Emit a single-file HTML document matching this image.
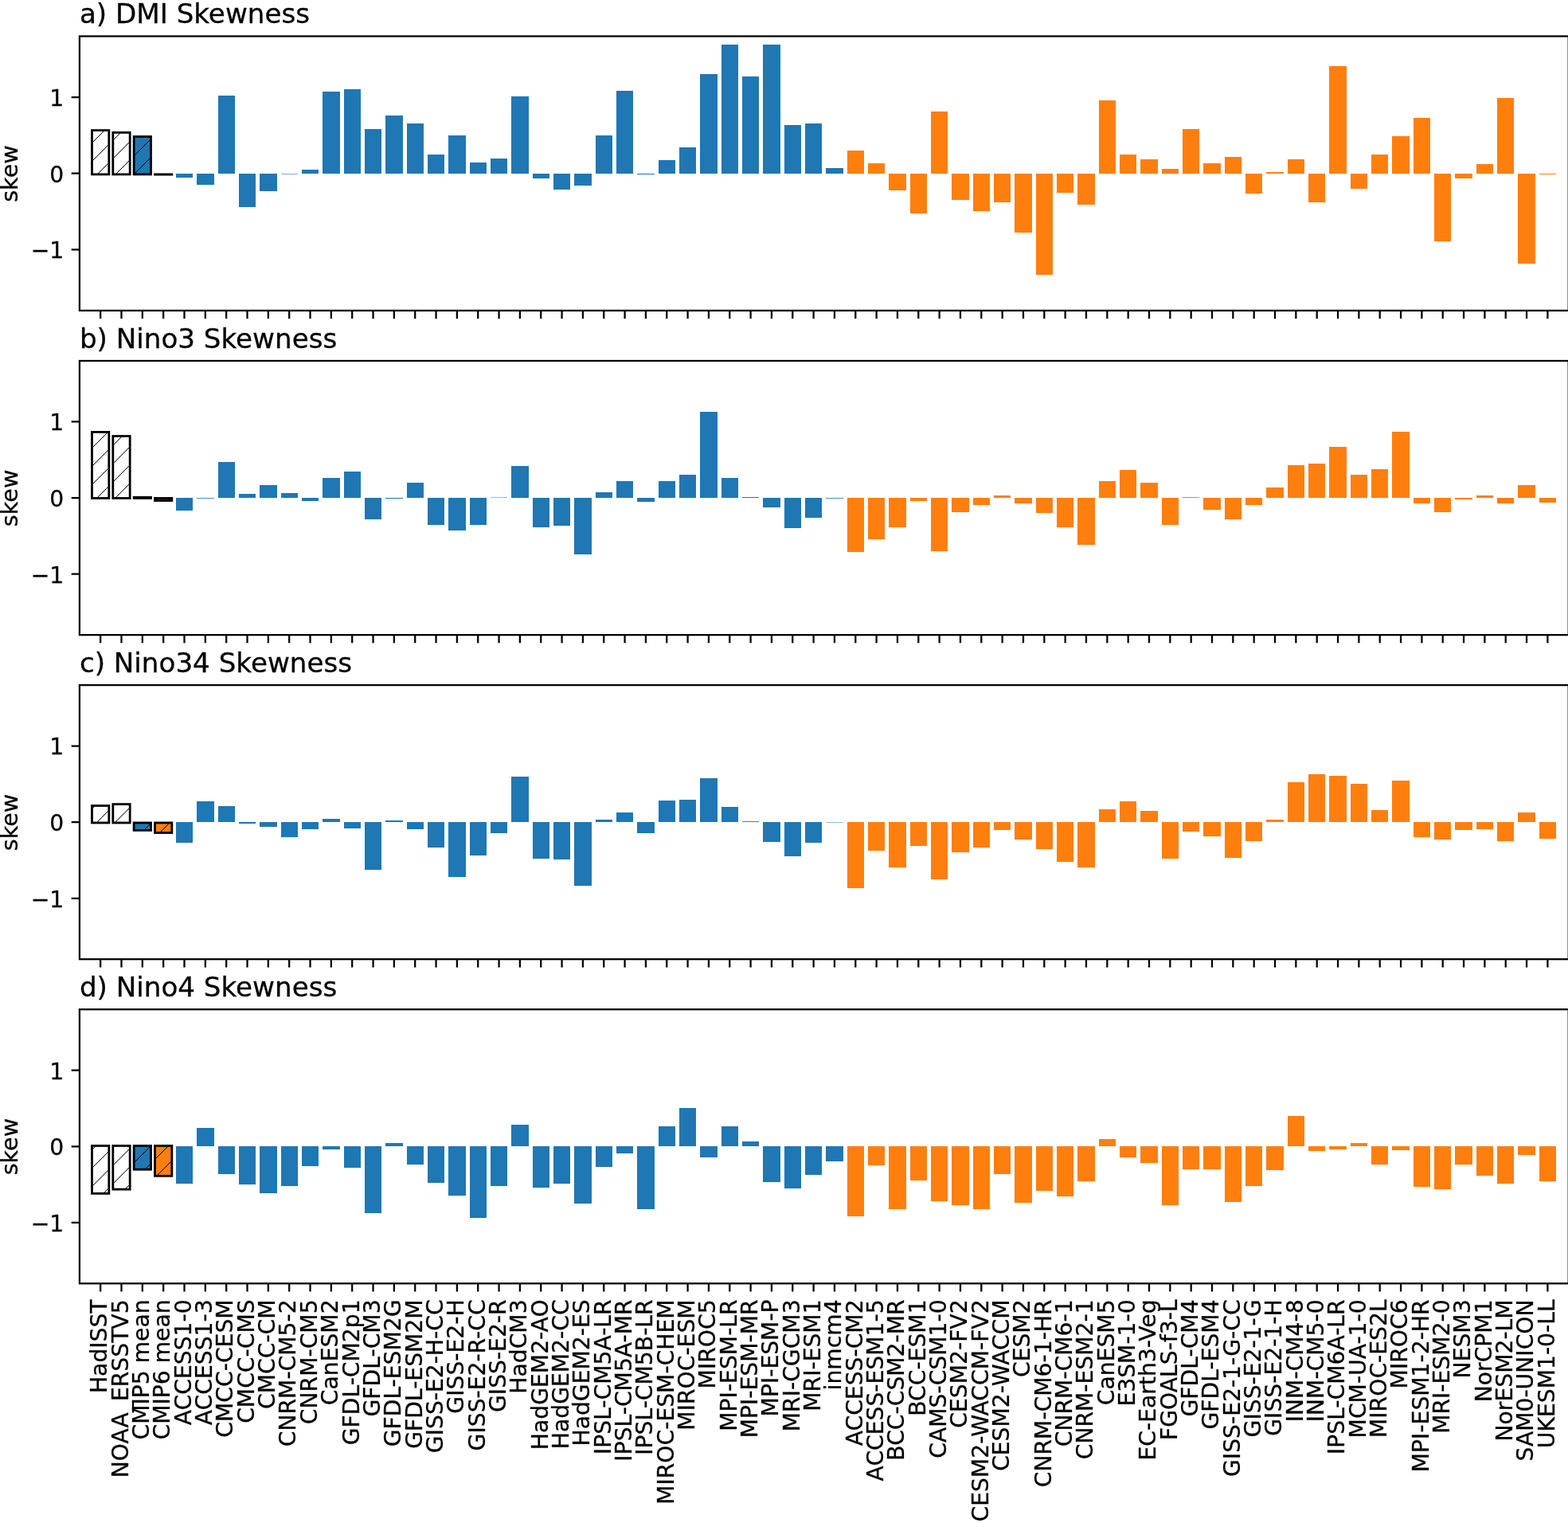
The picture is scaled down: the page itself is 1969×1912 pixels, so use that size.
<!DOCTYPE html>
<html><head><meta charset="utf-8"><title>Skewness</title>
<style>
html,body{margin:0;padding:0;background:#fff;}
body{width:1969px;height:1912px;overflow:hidden;}
svg{display:block;}
.t{font-family:"DejaVu Sans",sans-serif;font-size:28.2px;fill:#000;stroke:#000;stroke-width:0.3px;}
.ti{font-family:"DejaVu Sans",sans-serif;font-size:34.15px;fill:#000;stroke:#000;stroke-width:0.3px;}
</style></head><body>
<svg width="1969" height="1912" viewBox="0 0 1969 1912">
<rect x="0" y="0" width="1969" height="1912" fill="#fff"/>
<g><rect x="221" y="218" width="21" height="5" fill="#1f77b4"/><rect x="247" y="218" width="22" height="14" fill="#1f77b4"/><rect x="274" y="120" width="21" height="98" fill="#1f77b4"/><rect x="300" y="218" width="21" height="42" fill="#1f77b4"/><rect x="326" y="218" width="22" height="22" fill="#1f77b4"/><rect x="353" y="218" width="21" height="0.6" fill="#1f77b4"/><rect x="379" y="213" width="21" height="5" fill="#1f77b4"/><rect x="405" y="115" width="22" height="103" fill="#1f77b4"/><rect x="432" y="112" width="21" height="106" fill="#1f77b4"/><rect x="458" y="162" width="21" height="56" fill="#1f77b4"/><rect x="484" y="145" width="22" height="73" fill="#1f77b4"/><rect x="511" y="155" width="21" height="63" fill="#1f77b4"/><rect x="537" y="194" width="21" height="24" fill="#1f77b4"/><rect x="563" y="170" width="22" height="48" fill="#1f77b4"/><rect x="590" y="204" width="21" height="14" fill="#1f77b4"/><rect x="616" y="199" width="21" height="19" fill="#1f77b4"/><rect x="642" y="121" width="22" height="97" fill="#1f77b4"/><rect x="669" y="218" width="21" height="6" fill="#1f77b4"/><rect x="695" y="218" width="21" height="20" fill="#1f77b4"/><rect x="721" y="218" width="22" height="15" fill="#1f77b4"/><rect x="748" y="170" width="21" height="48" fill="#1f77b4"/><rect x="774" y="114" width="21" height="104" fill="#1f77b4"/><rect x="800" y="218" width="22" height="1" fill="#1f77b4"/><rect x="827" y="201" width="21" height="17" fill="#1f77b4"/><rect x="853" y="185" width="21" height="33" fill="#1f77b4"/><rect x="879" y="93" width="22" height="125" fill="#1f77b4"/><rect x="906" y="56" width="21" height="162" fill="#1f77b4"/><rect x="932" y="96" width="21" height="122" fill="#1f77b4"/><rect x="958" y="56" width="22" height="162" fill="#1f77b4"/><rect x="985" y="157" width="21" height="61" fill="#1f77b4"/><rect x="1011" y="155" width="21" height="63" fill="#1f77b4"/><rect x="1037" y="211" width="22" height="7" fill="#1f77b4"/><rect x="1064" y="189" width="21" height="29" fill="#ff7f0e"/><rect x="1090" y="205" width="21" height="13" fill="#ff7f0e"/><rect x="1116" y="218" width="22" height="21" fill="#ff7f0e"/><rect x="1143" y="218" width="21" height="50" fill="#ff7f0e"/><rect x="1169" y="140" width="21" height="78" fill="#ff7f0e"/><rect x="1195" y="218" width="22" height="33" fill="#ff7f0e"/><rect x="1222" y="218" width="21" height="47" fill="#ff7f0e"/><rect x="1248" y="218" width="21" height="36" fill="#ff7f0e"/><rect x="1274" y="218" width="22" height="74" fill="#ff7f0e"/><rect x="1301" y="218" width="21" height="127" fill="#ff7f0e"/><rect x="1327" y="218" width="21" height="24" fill="#ff7f0e"/><rect x="1353" y="218" width="22" height="39" fill="#ff7f0e"/><rect x="1380" y="126" width="21" height="92" fill="#ff7f0e"/><rect x="1406" y="194" width="21" height="24" fill="#ff7f0e"/><rect x="1432" y="200" width="22" height="18" fill="#ff7f0e"/><rect x="1459" y="212" width="21" height="6" fill="#ff7f0e"/><rect x="1485" y="162" width="21" height="56" fill="#ff7f0e"/><rect x="1511" y="205" width="22" height="13" fill="#ff7f0e"/><rect x="1538" y="197" width="21" height="21" fill="#ff7f0e"/><rect x="1564" y="218" width="21" height="25" fill="#ff7f0e"/><rect x="1590" y="216" width="22" height="2" fill="#ff7f0e"/><rect x="1617" y="200" width="21" height="18" fill="#ff7f0e"/><rect x="1643" y="218" width="21" height="36" fill="#ff7f0e"/><rect x="1669" y="83" width="22" height="135" fill="#ff7f0e"/><rect x="1696" y="218" width="21" height="19" fill="#ff7f0e"/><rect x="1722" y="194" width="21" height="24" fill="#ff7f0e"/><rect x="1748" y="171" width="22" height="47" fill="#ff7f0e"/><rect x="1775" y="148" width="21" height="70" fill="#ff7f0e"/><rect x="1801" y="218" width="21" height="85" fill="#ff7f0e"/><rect x="1827" y="218" width="22" height="6" fill="#ff7f0e"/><rect x="1854" y="206" width="21" height="12" fill="#ff7f0e"/><rect x="1880" y="123" width="21" height="95" fill="#ff7f0e"/><rect x="1906" y="218" width="22" height="113" fill="#ff7f0e"/><rect x="1933" y="218" width="21" height="1" fill="#ff7f0e"/><rect x="115.49" y="163.6" width="21.33" height="55.3" fill="#ffffff"/><path d="M115 179h1v1h-1zM116 178h1v1h-1zM117 177h1v1h-1zM118 176h1v1h-1zM119 175h1v1h-1zM120 174h1v1h-1zM121 173h1v1h-1zM122 172h1v1h-1zM123 171h1v1h-1zM124 170h1v1h-1zM125 169h1v1h-1zM126 168h1v1h-1zM127 167h1v1h-1zM128 166h1v1h-1zM129 165h1v1h-1zM130 164h1v1h-1zM115 202h1v1h-1zM116 201h1v1h-1zM117 200h1v1h-1zM118 199h1v1h-1zM119 198h1v1h-1zM120 197h1v1h-1zM121 196h1v1h-1zM122 195h1v1h-1zM123 194h1v1h-1zM124 193h1v1h-1zM125 192h1v1h-1zM126 191h1v1h-1zM127 190h1v1h-1zM128 189h1v1h-1zM129 188h1v1h-1zM130 187h1v1h-1zM131 186h1v1h-1zM132 185h1v1h-1zM133 184h1v1h-1zM134 183h1v1h-1zM135 182h1v1h-1zM136 181h1v1h-1zM122 218h1v1h-1zM123 217h1v1h-1zM124 216h1v1h-1zM125 215h1v1h-1zM126 214h1v1h-1zM127 213h1v1h-1zM128 212h1v1h-1zM129 211h1v1h-1zM130 210h1v1h-1zM131 209h1v1h-1zM132 208h1v1h-1zM133 207h1v1h-1zM134 206h1v1h-1zM135 205h1v1h-1zM136 204h1v1h-1z" fill="#000" shape-rendering="crispEdges"/><rect x="115.49" y="163.6" width="21.33" height="55.3" fill="none" stroke="#000" stroke-width="2.8"/><rect x="141.83" y="166.4" width="21.33" height="52.5" fill="#ffffff"/><path d="M142 175h1v1h-1zM143 174h1v1h-1zM144 173h1v1h-1zM145 172h1v1h-1zM146 171h1v1h-1zM147 170h1v1h-1zM148 169h1v1h-1zM149 168h1v1h-1zM150 167h1v1h-1zM151 166h1v1h-1zM142 198h1v1h-1zM143 197h1v1h-1zM144 196h1v1h-1zM145 195h1v1h-1zM146 194h1v1h-1zM147 193h1v1h-1zM148 192h1v1h-1zM149 191h1v1h-1zM150 190h1v1h-1zM151 189h1v1h-1zM152 188h1v1h-1zM153 187h1v1h-1zM154 186h1v1h-1zM155 185h1v1h-1zM156 184h1v1h-1zM157 183h1v1h-1zM158 182h1v1h-1zM159 181h1v1h-1zM160 180h1v1h-1zM161 179h1v1h-1zM162 178h1v1h-1zM145 218h1v1h-1zM146 217h1v1h-1zM147 216h1v1h-1zM148 215h1v1h-1zM149 214h1v1h-1zM150 213h1v1h-1zM151 212h1v1h-1zM152 211h1v1h-1zM153 210h1v1h-1zM154 209h1v1h-1zM155 208h1v1h-1zM156 207h1v1h-1zM157 206h1v1h-1zM158 205h1v1h-1zM159 204h1v1h-1zM160 203h1v1h-1zM161 202h1v1h-1zM162 201h1v1h-1z" fill="#000" shape-rendering="crispEdges"/><rect x="141.83" y="166.4" width="21.33" height="52.5" fill="none" stroke="#000" stroke-width="2.8"/><rect x="168.16" y="171.5" width="21.33" height="47.4" fill="#1f77b4"/><path d="M168 172h1v1h-1zM169 171h1v1h-1zM168 195h1v1h-1zM169 194h1v1h-1zM170 193h1v1h-1zM171 192h1v1h-1zM172 191h1v1h-1zM173 190h1v1h-1zM174 189h1v1h-1zM175 188h1v1h-1zM176 187h1v1h-1zM177 186h1v1h-1zM178 185h1v1h-1zM179 184h1v1h-1zM180 183h1v1h-1zM181 182h1v1h-1zM182 181h1v1h-1zM183 180h1v1h-1zM184 179h1v1h-1zM185 178h1v1h-1zM186 177h1v1h-1zM187 176h1v1h-1zM188 175h1v1h-1zM168 218h1v1h-1zM169 217h1v1h-1zM170 216h1v1h-1zM171 215h1v1h-1zM172 214h1v1h-1zM173 213h1v1h-1zM174 212h1v1h-1zM175 211h1v1h-1zM176 210h1v1h-1zM177 209h1v1h-1zM178 208h1v1h-1zM179 207h1v1h-1zM180 206h1v1h-1zM181 205h1v1h-1zM182 204h1v1h-1zM183 203h1v1h-1zM184 202h1v1h-1zM185 201h1v1h-1zM186 200h1v1h-1zM187 199h1v1h-1zM188 198h1v1h-1z" fill="#000" shape-rendering="crispEdges"/><rect x="168.16" y="171.5" width="21.33" height="47.4" fill="none" stroke="#000" stroke-width="2.8"/><rect x="194.5" y="218.9" width="21.33" height="0.2" fill="#ff7f0e"/><rect x="194.5" y="218.9" width="21.33" height="0.2" fill="none" stroke="#000" stroke-width="2.8"/></g>
<rect x="99.9" y="45.5" width="1869.8" height="344.4" fill="none" stroke="#000" stroke-width="2.25" stroke-linejoin="miter"/>
<path d="M126.16 389.9v10.2M152.49 389.9v10.2M178.83 389.9v10.2M205.17 389.9v10.2M231.5 389.9v10.2M257.84 389.9v10.2M284.18 389.9v10.2M310.51 389.9v10.2M336.85 389.9v10.2M363.19 389.9v10.2M389.52 389.9v10.2M415.86 389.9v10.2M442.2 389.9v10.2M468.54 389.9v10.2M494.87 389.9v10.2M521.21 389.9v10.2M547.55 389.9v10.2M573.88 389.9v10.2M600.22 389.9v10.2M626.56 389.9v10.2M652.89 389.9v10.2M679.23 389.9v10.2M705.57 389.9v10.2M731.91 389.9v10.2M758.24 389.9v10.2M784.58 389.9v10.2M810.92 389.9v10.2M837.25 389.9v10.2M863.59 389.9v10.2M889.93 389.9v10.2M916.26 389.9v10.2M942.6 389.9v10.2M968.94 389.9v10.2M995.28 389.9v10.2M1021.61 389.9v10.2M1047.95 389.9v10.2M1074.29 389.9v10.2M1100.62 389.9v10.2M1126.96 389.9v10.2M1153.3 389.9v10.2M1179.63 389.9v10.2M1205.97 389.9v10.2M1232.31 389.9v10.2M1258.65 389.9v10.2M1284.98 389.9v10.2M1311.32 389.9v10.2M1337.66 389.9v10.2M1363.99 389.9v10.2M1390.33 389.9v10.2M1416.67 389.9v10.2M1443 389.9v10.2M1469.34 389.9v10.2M1495.68 389.9v10.2M1522.02 389.9v10.2M1548.35 389.9v10.2M1574.69 389.9v10.2M1601.03 389.9v10.2M1627.36 389.9v10.2M1653.7 389.9v10.2M1680.04 389.9v10.2M1706.38 389.9v10.2M1732.71 389.9v10.2M1759.05 389.9v10.2M1785.39 389.9v10.2M1811.72 389.9v10.2M1838.06 389.9v10.2M1864.4 389.9v10.2M1890.73 389.9v10.2M1917.07 389.9v10.2M1943.41 389.9v10.2" stroke="#000" stroke-width="2.25"/>
<path d="M99.9 122.1h-10.2M99.9 217.7h-10.2M99.9 313.3h-10.2" stroke="#000" stroke-width="2.25"/>
<text x="80.3" y="133" text-anchor="end" class="t">1</text>
<text x="80.3" y="228.6" text-anchor="end" class="t">0</text>
<text x="80.3" y="324.2" text-anchor="end" class="t">−1</text>
<text transform="translate(21.6 218.1) rotate(-90)" text-anchor="middle" class="t" style="font-size:28.6px">skew</text>
<text x="99.9" y="29.4" class="ti">a) DMI Skewness</text>
<g><rect x="221" y="625" width="21" height="16" fill="#1f77b4"/><rect x="247" y="625" width="22" height="0.8" fill="#1f77b4"/><rect x="274" y="580" width="21" height="45" fill="#1f77b4"/><rect x="300" y="620" width="21" height="5" fill="#1f77b4"/><rect x="326" y="609" width="22" height="16" fill="#1f77b4"/><rect x="353" y="619" width="21" height="6" fill="#1f77b4"/><rect x="379" y="625" width="21" height="4" fill="#1f77b4"/><rect x="405" y="600" width="22" height="25" fill="#1f77b4"/><rect x="432" y="592" width="21" height="33" fill="#1f77b4"/><rect x="458" y="625" width="21" height="27" fill="#1f77b4"/><rect x="484" y="625" width="22" height="1" fill="#1f77b4"/><rect x="511" y="606" width="21" height="19" fill="#1f77b4"/><rect x="537" y="625" width="21" height="34" fill="#1f77b4"/><rect x="563" y="625" width="22" height="41" fill="#1f77b4"/><rect x="590" y="625" width="21" height="34" fill="#1f77b4"/><rect x="616" y="624.5" width="21" height="0.5" fill="#1f77b4"/><rect x="642" y="585" width="22" height="40" fill="#1f77b4"/><rect x="669" y="625" width="21" height="37" fill="#1f77b4"/><rect x="695" y="625" width="21" height="35" fill="#1f77b4"/><rect x="721" y="625" width="22" height="71" fill="#1f77b4"/><rect x="748" y="618" width="21" height="7" fill="#1f77b4"/><rect x="774" y="604" width="21" height="21" fill="#1f77b4"/><rect x="800" y="625" width="22" height="5" fill="#1f77b4"/><rect x="827" y="604" width="21" height="21" fill="#1f77b4"/><rect x="853" y="596" width="21" height="29" fill="#1f77b4"/><rect x="879" y="517" width="22" height="108" fill="#1f77b4"/><rect x="906" y="600" width="21" height="25" fill="#1f77b4"/><rect x="932" y="624" width="21" height="1" fill="#1f77b4"/><rect x="958" y="625" width="22" height="12" fill="#1f77b4"/><rect x="985" y="625" width="21" height="38" fill="#1f77b4"/><rect x="1011" y="625" width="21" height="25" fill="#1f77b4"/><rect x="1037" y="625" width="22" height="0.8" fill="#1f77b4"/><rect x="1064" y="625" width="21" height="68" fill="#ff7f0e"/><rect x="1090" y="625" width="21" height="52" fill="#ff7f0e"/><rect x="1116" y="625" width="22" height="37" fill="#ff7f0e"/><rect x="1143" y="625" width="21" height="4" fill="#ff7f0e"/><rect x="1169" y="625" width="21" height="67" fill="#ff7f0e"/><rect x="1195" y="625" width="22" height="18" fill="#ff7f0e"/><rect x="1222" y="625" width="21" height="9" fill="#ff7f0e"/><rect x="1248" y="622" width="21" height="3" fill="#ff7f0e"/><rect x="1274" y="625" width="22" height="7" fill="#ff7f0e"/><rect x="1301" y="625" width="21" height="19" fill="#ff7f0e"/><rect x="1327" y="625" width="21" height="37" fill="#ff7f0e"/><rect x="1353" y="625" width="22" height="59" fill="#ff7f0e"/><rect x="1380" y="604" width="21" height="21" fill="#ff7f0e"/><rect x="1406" y="590" width="21" height="35" fill="#ff7f0e"/><rect x="1432" y="606" width="22" height="19" fill="#ff7f0e"/><rect x="1459" y="625" width="21" height="34" fill="#ff7f0e"/><rect x="1485" y="624" width="21" height="1" fill="#ff7f0e"/><rect x="1511" y="625" width="22" height="15" fill="#ff7f0e"/><rect x="1538" y="625" width="21" height="27" fill="#ff7f0e"/><rect x="1564" y="625" width="21" height="9" fill="#ff7f0e"/><rect x="1590" y="612" width="22" height="13" fill="#ff7f0e"/><rect x="1617" y="584" width="21" height="41" fill="#ff7f0e"/><rect x="1643" y="582" width="21" height="43" fill="#ff7f0e"/><rect x="1669" y="561" width="22" height="64" fill="#ff7f0e"/><rect x="1696" y="596" width="21" height="29" fill="#ff7f0e"/><rect x="1722" y="589" width="21" height="36" fill="#ff7f0e"/><rect x="1748" y="542" width="22" height="83" fill="#ff7f0e"/><rect x="1775" y="625" width="21" height="7" fill="#ff7f0e"/><rect x="1801" y="625" width="21" height="18" fill="#ff7f0e"/><rect x="1827" y="625" width="22" height="2" fill="#ff7f0e"/><rect x="1854" y="622" width="21" height="3" fill="#ff7f0e"/><rect x="1880" y="625" width="21" height="7" fill="#ff7f0e"/><rect x="1906" y="609" width="22" height="16" fill="#ff7f0e"/><rect x="1933" y="625" width="21" height="6" fill="#ff7f0e"/><rect x="115.49" y="542.4" width="21.33" height="83.05" fill="#ffffff"/><path d="M115 562h1v1h-1zM116 561h1v1h-1zM117 560h1v1h-1zM118 559h1v1h-1zM119 558h1v1h-1zM120 557h1v1h-1zM121 556h1v1h-1zM122 555h1v1h-1zM123 554h1v1h-1zM124 553h1v1h-1zM125 552h1v1h-1zM126 551h1v1h-1zM127 550h1v1h-1zM128 549h1v1h-1zM129 548h1v1h-1zM130 547h1v1h-1zM131 546h1v1h-1zM132 545h1v1h-1zM133 544h1v1h-1zM134 543h1v1h-1zM135 542h1v1h-1zM115 585h1v1h-1zM116 584h1v1h-1zM117 583h1v1h-1zM118 582h1v1h-1zM119 581h1v1h-1zM120 580h1v1h-1zM121 579h1v1h-1zM122 578h1v1h-1zM123 577h1v1h-1zM124 576h1v1h-1zM125 575h1v1h-1zM126 574h1v1h-1zM127 573h1v1h-1zM128 572h1v1h-1zM129 571h1v1h-1zM130 570h1v1h-1zM131 569h1v1h-1zM132 568h1v1h-1zM133 567h1v1h-1zM134 566h1v1h-1zM135 565h1v1h-1zM136 564h1v1h-1zM115 608h1v1h-1zM116 607h1v1h-1zM117 606h1v1h-1zM118 605h1v1h-1zM119 604h1v1h-1zM120 603h1v1h-1zM121 602h1v1h-1zM122 601h1v1h-1zM123 600h1v1h-1zM124 599h1v1h-1zM125 598h1v1h-1zM126 597h1v1h-1zM127 596h1v1h-1zM128 595h1v1h-1zM129 594h1v1h-1zM130 593h1v1h-1zM131 592h1v1h-1zM132 591h1v1h-1zM133 590h1v1h-1zM134 589h1v1h-1zM135 588h1v1h-1zM136 587h1v1h-1zM122 624h1v1h-1zM123 623h1v1h-1zM124 622h1v1h-1zM125 621h1v1h-1zM126 620h1v1h-1zM127 619h1v1h-1zM128 618h1v1h-1zM129 617h1v1h-1zM130 616h1v1h-1zM131 615h1v1h-1zM132 614h1v1h-1zM133 613h1v1h-1zM134 612h1v1h-1zM135 611h1v1h-1zM136 610h1v1h-1z" fill="#000" shape-rendering="crispEdges"/><rect x="115.49" y="542.4" width="21.33" height="83.05" fill="none" stroke="#000" stroke-width="2.8"/><rect x="141.83" y="547.5" width="21.33" height="77.95" fill="#ffffff"/><path d="M142 558h1v1h-1zM143 557h1v1h-1zM144 556h1v1h-1zM145 555h1v1h-1zM146 554h1v1h-1zM147 553h1v1h-1zM148 552h1v1h-1zM149 551h1v1h-1zM150 550h1v1h-1zM151 549h1v1h-1zM152 548h1v1h-1zM153 547h1v1h-1zM142 581h1v1h-1zM143 580h1v1h-1zM144 579h1v1h-1zM145 578h1v1h-1zM146 577h1v1h-1zM147 576h1v1h-1zM148 575h1v1h-1zM149 574h1v1h-1zM150 573h1v1h-1zM151 572h1v1h-1zM152 571h1v1h-1zM153 570h1v1h-1zM154 569h1v1h-1zM155 568h1v1h-1zM156 567h1v1h-1zM157 566h1v1h-1zM158 565h1v1h-1zM159 564h1v1h-1zM160 563h1v1h-1zM161 562h1v1h-1zM162 561h1v1h-1zM142 604h1v1h-1zM143 603h1v1h-1zM144 602h1v1h-1zM145 601h1v1h-1zM146 600h1v1h-1zM147 599h1v1h-1zM148 598h1v1h-1zM149 597h1v1h-1zM150 596h1v1h-1zM151 595h1v1h-1zM152 594h1v1h-1zM153 593h1v1h-1zM154 592h1v1h-1zM155 591h1v1h-1zM156 590h1v1h-1zM157 589h1v1h-1zM158 588h1v1h-1zM159 587h1v1h-1zM160 586h1v1h-1zM161 585h1v1h-1zM162 584h1v1h-1zM145 624h1v1h-1zM146 623h1v1h-1zM147 622h1v1h-1zM148 621h1v1h-1zM149 620h1v1h-1zM150 619h1v1h-1zM151 618h1v1h-1zM152 617h1v1h-1zM153 616h1v1h-1zM154 615h1v1h-1zM155 614h1v1h-1zM156 613h1v1h-1zM157 612h1v1h-1zM158 611h1v1h-1zM159 610h1v1h-1zM160 609h1v1h-1zM161 608h1v1h-1zM162 607h1v1h-1z" fill="#000" shape-rendering="crispEdges"/><rect x="141.83" y="547.5" width="21.33" height="77.95" fill="none" stroke="#000" stroke-width="2.8"/><rect x="168.16" y="624.35" width="21.33" height="1.1" fill="#1f77b4"/><path d="M168 624h1v1h-1z" fill="#000" shape-rendering="crispEdges"/><rect x="168.16" y="624.35" width="21.33" height="1.1" fill="none" stroke="#000" stroke-width="2.8"/><rect x="194.5" y="625.45" width="21.33" height="3.05" fill="#ff7f0e"/><path d="M210 628h1v1h-1zM211 627h1v1h-1zM212 626h1v1h-1zM213 625h1v1h-1z" fill="#000" shape-rendering="crispEdges"/><rect x="194.5" y="625.45" width="21.33" height="3.05" fill="none" stroke="#000" stroke-width="2.8"/></g>
<rect x="99.9" y="453" width="1869.8" height="344.1" fill="none" stroke="#000" stroke-width="2.25" stroke-linejoin="miter"/>
<path d="M126.16 797.1v10.2M152.49 797.1v10.2M178.83 797.1v10.2M205.17 797.1v10.2M231.5 797.1v10.2M257.84 797.1v10.2M284.18 797.1v10.2M310.51 797.1v10.2M336.85 797.1v10.2M363.19 797.1v10.2M389.52 797.1v10.2M415.86 797.1v10.2M442.2 797.1v10.2M468.54 797.1v10.2M494.87 797.1v10.2M521.21 797.1v10.2M547.55 797.1v10.2M573.88 797.1v10.2M600.22 797.1v10.2M626.56 797.1v10.2M652.89 797.1v10.2M679.23 797.1v10.2M705.57 797.1v10.2M731.91 797.1v10.2M758.24 797.1v10.2M784.58 797.1v10.2M810.92 797.1v10.2M837.25 797.1v10.2M863.59 797.1v10.2M889.93 797.1v10.2M916.26 797.1v10.2M942.6 797.1v10.2M968.94 797.1v10.2M995.28 797.1v10.2M1021.61 797.1v10.2M1047.95 797.1v10.2M1074.29 797.1v10.2M1100.62 797.1v10.2M1126.96 797.1v10.2M1153.3 797.1v10.2M1179.63 797.1v10.2M1205.97 797.1v10.2M1232.31 797.1v10.2M1258.65 797.1v10.2M1284.98 797.1v10.2M1311.32 797.1v10.2M1337.66 797.1v10.2M1363.99 797.1v10.2M1390.33 797.1v10.2M1416.67 797.1v10.2M1443 797.1v10.2M1469.34 797.1v10.2M1495.68 797.1v10.2M1522.02 797.1v10.2M1548.35 797.1v10.2M1574.69 797.1v10.2M1601.03 797.1v10.2M1627.36 797.1v10.2M1653.7 797.1v10.2M1680.04 797.1v10.2M1706.38 797.1v10.2M1732.71 797.1v10.2M1759.05 797.1v10.2M1785.39 797.1v10.2M1811.72 797.1v10.2M1838.06 797.1v10.2M1864.4 797.1v10.2M1890.73 797.1v10.2M1917.07 797.1v10.2M1943.41 797.1v10.2" stroke="#000" stroke-width="2.25"/>
<path d="M99.9 529.45h-10.2M99.9 625.05h-10.2M99.9 720.65h-10.2" stroke="#000" stroke-width="2.25"/>
<text x="80.3" y="540.35" text-anchor="end" class="t">1</text>
<text x="80.3" y="635.95" text-anchor="end" class="t">0</text>
<text x="80.3" y="731.55" text-anchor="end" class="t">−1</text>
<text transform="translate(21.6 625.45) rotate(-90)" text-anchor="middle" class="t" style="font-size:28.6px">skew</text>
<text x="99.9" y="436.9" class="ti">b) Nino3 Skewness</text>
<g><rect x="221" y="1032" width="21" height="26" fill="#1f77b4"/><rect x="247" y="1006" width="22" height="26" fill="#1f77b4"/><rect x="274" y="1012" width="21" height="20" fill="#1f77b4"/><rect x="300" y="1032" width="21" height="2" fill="#1f77b4"/><rect x="326" y="1032" width="22" height="6" fill="#1f77b4"/><rect x="353" y="1032" width="21" height="19" fill="#1f77b4"/><rect x="379" y="1032" width="21" height="9" fill="#1f77b4"/><rect x="405" y="1028" width="22" height="4" fill="#1f77b4"/><rect x="432" y="1032" width="21" height="8" fill="#1f77b4"/><rect x="458" y="1032" width="21" height="60" fill="#1f77b4"/><rect x="484" y="1030" width="22" height="2" fill="#1f77b4"/><rect x="511" y="1032" width="21" height="9" fill="#1f77b4"/><rect x="537" y="1032" width="21" height="32" fill="#1f77b4"/><rect x="563" y="1032" width="22" height="69" fill="#1f77b4"/><rect x="590" y="1032" width="21" height="42" fill="#1f77b4"/><rect x="616" y="1032" width="21" height="14" fill="#1f77b4"/><rect x="642" y="975" width="22" height="57" fill="#1f77b4"/><rect x="669" y="1032" width="21" height="46" fill="#1f77b4"/><rect x="695" y="1032" width="21" height="47" fill="#1f77b4"/><rect x="721" y="1032" width="22" height="80" fill="#1f77b4"/><rect x="748" y="1029" width="21" height="3" fill="#1f77b4"/><rect x="774" y="1020" width="21" height="12" fill="#1f77b4"/><rect x="800" y="1032" width="22" height="14" fill="#1f77b4"/><rect x="827" y="1005" width="21" height="27" fill="#1f77b4"/><rect x="853" y="1004" width="21" height="28" fill="#1f77b4"/><rect x="879" y="977" width="22" height="55" fill="#1f77b4"/><rect x="906" y="1013" width="21" height="19" fill="#1f77b4"/><rect x="932" y="1031.1" width="21" height="0.9" fill="#1f77b4"/><rect x="958" y="1032" width="22" height="25" fill="#1f77b4"/><rect x="985" y="1032" width="21" height="43" fill="#1f77b4"/><rect x="1011" y="1032" width="21" height="26" fill="#1f77b4"/><rect x="1037" y="1032" width="22" height="0.5" fill="#1f77b4"/><rect x="1064" y="1032" width="21" height="83" fill="#ff7f0e"/><rect x="1090" y="1032" width="21" height="36" fill="#ff7f0e"/><rect x="1116" y="1032" width="22" height="57" fill="#ff7f0e"/><rect x="1143" y="1032" width="21" height="30" fill="#ff7f0e"/><rect x="1169" y="1032" width="21" height="72" fill="#ff7f0e"/><rect x="1195" y="1032" width="22" height="38" fill="#ff7f0e"/><rect x="1222" y="1032" width="21" height="32" fill="#ff7f0e"/><rect x="1248" y="1032" width="21" height="10" fill="#ff7f0e"/><rect x="1274" y="1032" width="22" height="22" fill="#ff7f0e"/><rect x="1301" y="1032" width="21" height="34" fill="#ff7f0e"/><rect x="1327" y="1032" width="21" height="50" fill="#ff7f0e"/><rect x="1353" y="1032" width="22" height="57" fill="#ff7f0e"/><rect x="1380" y="1016" width="21" height="16" fill="#ff7f0e"/><rect x="1406" y="1006" width="21" height="26" fill="#ff7f0e"/><rect x="1432" y="1018" width="22" height="14" fill="#ff7f0e"/><rect x="1459" y="1032" width="21" height="46" fill="#ff7f0e"/><rect x="1485" y="1032" width="21" height="12" fill="#ff7f0e"/><rect x="1511" y="1032" width="22" height="18" fill="#ff7f0e"/><rect x="1538" y="1032" width="21" height="45" fill="#ff7f0e"/><rect x="1564" y="1032" width="21" height="24" fill="#ff7f0e"/><rect x="1590" y="1029" width="22" height="3" fill="#ff7f0e"/><rect x="1617" y="982" width="21" height="50" fill="#ff7f0e"/><rect x="1643" y="972" width="21" height="60" fill="#ff7f0e"/><rect x="1669" y="974" width="22" height="58" fill="#ff7f0e"/><rect x="1696" y="984" width="21" height="48" fill="#ff7f0e"/><rect x="1722" y="1017" width="21" height="15" fill="#ff7f0e"/><rect x="1748" y="980" width="22" height="52" fill="#ff7f0e"/><rect x="1775" y="1032" width="21" height="19" fill="#ff7f0e"/><rect x="1801" y="1032" width="21" height="22" fill="#ff7f0e"/><rect x="1827" y="1032" width="22" height="10" fill="#ff7f0e"/><rect x="1854" y="1032" width="21" height="9" fill="#ff7f0e"/><rect x="1880" y="1032" width="21" height="24" fill="#ff7f0e"/><rect x="1906" y="1020" width="22" height="12" fill="#ff7f0e"/><rect x="1933" y="1032" width="21" height="21" fill="#ff7f0e"/><rect x="115.49" y="1011.5" width="21.33" height="21.45" fill="#ffffff"/><path d="M115 1015h1v1h-1zM116 1014h1v1h-1zM117 1013h1v1h-1zM118 1012h1v1h-1zM119 1011h1v1h-1zM121 1032h1v1h-1zM122 1031h1v1h-1zM123 1030h1v1h-1zM124 1029h1v1h-1zM125 1028h1v1h-1zM126 1027h1v1h-1zM127 1026h1v1h-1zM128 1025h1v1h-1zM129 1024h1v1h-1zM130 1023h1v1h-1zM131 1022h1v1h-1zM132 1021h1v1h-1zM133 1020h1v1h-1zM134 1019h1v1h-1zM135 1018h1v1h-1zM136 1017h1v1h-1z" fill="#000" shape-rendering="crispEdges"/><rect x="115.49" y="1011.5" width="21.33" height="21.45" fill="none" stroke="#000" stroke-width="2.8"/><rect x="141.83" y="1009.6" width="21.33" height="23.35" fill="#ffffff"/><path d="M142 1011h1v1h-1zM143 1010h1v1h-1zM144 1032h1v1h-1zM145 1031h1v1h-1zM146 1030h1v1h-1zM147 1029h1v1h-1zM148 1028h1v1h-1zM149 1027h1v1h-1zM150 1026h1v1h-1zM151 1025h1v1h-1zM152 1024h1v1h-1zM153 1023h1v1h-1zM154 1022h1v1h-1zM155 1021h1v1h-1zM156 1020h1v1h-1zM157 1019h1v1h-1zM158 1018h1v1h-1zM159 1017h1v1h-1zM160 1016h1v1h-1zM161 1015h1v1h-1zM162 1014h1v1h-1z" fill="#000" shape-rendering="crispEdges"/><rect x="141.83" y="1009.6" width="21.33" height="23.35" fill="none" stroke="#000" stroke-width="2.8"/><rect x="168.16" y="1032.95" width="21.33" height="9.45" fill="#1f77b4"/><path d="M181 1041h1v1h-1zM182 1040h1v1h-1zM183 1039h1v1h-1zM184 1038h1v1h-1zM185 1037h1v1h-1zM186 1036h1v1h-1zM187 1035h1v1h-1zM188 1034h1v1h-1z" fill="#000" shape-rendering="crispEdges"/><rect x="168.16" y="1032.95" width="21.33" height="9.45" fill="none" stroke="#000" stroke-width="2.8"/><rect x="194.5" y="1032.95" width="21.33" height="12.55" fill="#ff7f0e"/><path d="M200 1045h1v1h-1zM201 1044h1v1h-1zM202 1043h1v1h-1zM203 1042h1v1h-1zM204 1041h1v1h-1zM205 1040h1v1h-1zM206 1039h1v1h-1zM207 1038h1v1h-1zM208 1037h1v1h-1zM209 1036h1v1h-1zM210 1035h1v1h-1zM211 1034h1v1h-1zM212 1033h1v1h-1z" fill="#000" shape-rendering="crispEdges"/><rect x="194.5" y="1032.95" width="21.33" height="12.55" fill="none" stroke="#000" stroke-width="2.8"/></g>
<rect x="99.9" y="860.1" width="1869.8" height="344.1" fill="none" stroke="#000" stroke-width="2.25" stroke-linejoin="miter"/>
<path d="M126.16 1204.2v10.2M152.49 1204.2v10.2M178.83 1204.2v10.2M205.17 1204.2v10.2M231.5 1204.2v10.2M257.84 1204.2v10.2M284.18 1204.2v10.2M310.51 1204.2v10.2M336.85 1204.2v10.2M363.19 1204.2v10.2M389.52 1204.2v10.2M415.86 1204.2v10.2M442.2 1204.2v10.2M468.54 1204.2v10.2M494.87 1204.2v10.2M521.21 1204.2v10.2M547.55 1204.2v10.2M573.88 1204.2v10.2M600.22 1204.2v10.2M626.56 1204.2v10.2M652.89 1204.2v10.2M679.23 1204.2v10.2M705.57 1204.2v10.2M731.91 1204.2v10.2M758.24 1204.2v10.2M784.58 1204.2v10.2M810.92 1204.2v10.2M837.25 1204.2v10.2M863.59 1204.2v10.2M889.93 1204.2v10.2M916.26 1204.2v10.2M942.6 1204.2v10.2M968.94 1204.2v10.2M995.28 1204.2v10.2M1021.61 1204.2v10.2M1047.95 1204.2v10.2M1074.29 1204.2v10.2M1100.62 1204.2v10.2M1126.96 1204.2v10.2M1153.3 1204.2v10.2M1179.63 1204.2v10.2M1205.97 1204.2v10.2M1232.31 1204.2v10.2M1258.65 1204.2v10.2M1284.98 1204.2v10.2M1311.32 1204.2v10.2M1337.66 1204.2v10.2M1363.99 1204.2v10.2M1390.33 1204.2v10.2M1416.67 1204.2v10.2M1443 1204.2v10.2M1469.34 1204.2v10.2M1495.68 1204.2v10.2M1522.02 1204.2v10.2M1548.35 1204.2v10.2M1574.69 1204.2v10.2M1601.03 1204.2v10.2M1627.36 1204.2v10.2M1653.7 1204.2v10.2M1680.04 1204.2v10.2M1706.38 1204.2v10.2M1732.71 1204.2v10.2M1759.05 1204.2v10.2M1785.39 1204.2v10.2M1811.72 1204.2v10.2M1838.06 1204.2v10.2M1864.4 1204.2v10.2M1890.73 1204.2v10.2M1917.07 1204.2v10.2M1943.41 1204.2v10.2" stroke="#000" stroke-width="2.25"/>
<path d="M99.9 936.55h-10.2M99.9 1032.15h-10.2M99.9 1127.75h-10.2" stroke="#000" stroke-width="2.25"/>
<text x="80.3" y="947.45" text-anchor="end" class="t">1</text>
<text x="80.3" y="1043.05" text-anchor="end" class="t">0</text>
<text x="80.3" y="1138.65" text-anchor="end" class="t">−1</text>
<text transform="translate(21.6 1032.55) rotate(-90)" text-anchor="middle" class="t" style="font-size:28.6px">skew</text>
<text x="99.9" y="844" class="ti">c) Nino34 Skewness</text>
<g><rect x="221" y="1439" width="21" height="47" fill="#1f77b4"/><rect x="247" y="1416" width="22" height="23" fill="#1f77b4"/><rect x="274" y="1439" width="21" height="35" fill="#1f77b4"/><rect x="300" y="1439" width="21" height="48" fill="#1f77b4"/><rect x="326" y="1439" width="22" height="59" fill="#1f77b4"/><rect x="353" y="1439" width="21" height="50" fill="#1f77b4"/><rect x="379" y="1439" width="21" height="25" fill="#1f77b4"/><rect x="405" y="1439" width="22" height="4" fill="#1f77b4"/><rect x="432" y="1439" width="21" height="27" fill="#1f77b4"/><rect x="458" y="1439" width="21" height="84" fill="#1f77b4"/><rect x="484" y="1435" width="22" height="4" fill="#1f77b4"/><rect x="511" y="1439" width="21" height="23" fill="#1f77b4"/><rect x="537" y="1439" width="21" height="46" fill="#1f77b4"/><rect x="563" y="1439" width="22" height="62" fill="#1f77b4"/><rect x="590" y="1439" width="21" height="90" fill="#1f77b4"/><rect x="616" y="1439" width="21" height="50" fill="#1f77b4"/><rect x="642" y="1412" width="22" height="27" fill="#1f77b4"/><rect x="669" y="1439" width="21" height="52" fill="#1f77b4"/><rect x="695" y="1439" width="21" height="47" fill="#1f77b4"/><rect x="721" y="1439" width="22" height="72" fill="#1f77b4"/><rect x="748" y="1439" width="21" height="26" fill="#1f77b4"/><rect x="774" y="1439" width="21" height="9" fill="#1f77b4"/><rect x="800" y="1439" width="22" height="79" fill="#1f77b4"/><rect x="827" y="1414" width="21" height="25" fill="#1f77b4"/><rect x="853" y="1391" width="21" height="48" fill="#1f77b4"/><rect x="879" y="1439" width="22" height="14" fill="#1f77b4"/><rect x="906" y="1414" width="21" height="25" fill="#1f77b4"/><rect x="932" y="1433" width="21" height="6" fill="#1f77b4"/><rect x="958" y="1439" width="22" height="45" fill="#1f77b4"/><rect x="985" y="1439" width="21" height="53" fill="#1f77b4"/><rect x="1011" y="1439" width="21" height="36" fill="#1f77b4"/><rect x="1037" y="1439" width="22" height="19" fill="#1f77b4"/><rect x="1064" y="1439" width="21" height="88" fill="#ff7f0e"/><rect x="1090" y="1439" width="21" height="24" fill="#ff7f0e"/><rect x="1116" y="1439" width="22" height="79" fill="#ff7f0e"/><rect x="1143" y="1439" width="21" height="43" fill="#ff7f0e"/><rect x="1169" y="1439" width="21" height="69" fill="#ff7f0e"/><rect x="1195" y="1439" width="22" height="74" fill="#ff7f0e"/><rect x="1222" y="1439" width="21" height="79" fill="#ff7f0e"/><rect x="1248" y="1439" width="21" height="35" fill="#ff7f0e"/><rect x="1274" y="1439" width="22" height="71" fill="#ff7f0e"/><rect x="1301" y="1439" width="21" height="56" fill="#ff7f0e"/><rect x="1327" y="1439" width="21" height="63" fill="#ff7f0e"/><rect x="1353" y="1439" width="22" height="44" fill="#ff7f0e"/><rect x="1380" y="1430" width="21" height="9" fill="#ff7f0e"/><rect x="1406" y="1439" width="21" height="14" fill="#ff7f0e"/><rect x="1432" y="1439" width="22" height="21" fill="#ff7f0e"/><rect x="1459" y="1439" width="21" height="74" fill="#ff7f0e"/><rect x="1485" y="1439" width="21" height="29" fill="#ff7f0e"/><rect x="1511" y="1439" width="22" height="29" fill="#ff7f0e"/><rect x="1538" y="1439" width="21" height="70" fill="#ff7f0e"/><rect x="1564" y="1439" width="21" height="50" fill="#ff7f0e"/><rect x="1590" y="1439" width="22" height="30" fill="#ff7f0e"/><rect x="1617" y="1401" width="21" height="38" fill="#ff7f0e"/><rect x="1643" y="1439" width="21" height="6" fill="#ff7f0e"/><rect x="1669" y="1439" width="22" height="4" fill="#ff7f0e"/><rect x="1696" y="1435" width="21" height="4" fill="#ff7f0e"/><rect x="1722" y="1439" width="21" height="23" fill="#ff7f0e"/><rect x="1748" y="1439" width="22" height="5" fill="#ff7f0e"/><rect x="1775" y="1439" width="21" height="51" fill="#ff7f0e"/><rect x="1801" y="1439" width="21" height="54" fill="#ff7f0e"/><rect x="1827" y="1439" width="22" height="23" fill="#ff7f0e"/><rect x="1854" y="1439" width="21" height="37" fill="#ff7f0e"/><rect x="1880" y="1439" width="21" height="47" fill="#ff7f0e"/><rect x="1906" y="1439" width="22" height="11" fill="#ff7f0e"/><rect x="1933" y="1439" width="21" height="44" fill="#ff7f0e"/><rect x="115.49" y="1438.45" width="21.33" height="59.9" fill="#ffffff"/><path d="M115 1443h1v1h-1zM116 1442h1v1h-1zM117 1441h1v1h-1zM118 1440h1v1h-1zM119 1439h1v1h-1zM120 1438h1v1h-1zM115 1466h1v1h-1zM116 1465h1v1h-1zM117 1464h1v1h-1zM118 1463h1v1h-1zM119 1462h1v1h-1zM120 1461h1v1h-1zM121 1460h1v1h-1zM122 1459h1v1h-1zM123 1458h1v1h-1zM124 1457h1v1h-1zM125 1456h1v1h-1zM126 1455h1v1h-1zM127 1454h1v1h-1zM128 1453h1v1h-1zM129 1452h1v1h-1zM130 1451h1v1h-1zM131 1450h1v1h-1zM132 1449h1v1h-1zM133 1448h1v1h-1zM134 1447h1v1h-1zM135 1446h1v1h-1zM136 1445h1v1h-1zM115 1489h1v1h-1zM116 1488h1v1h-1zM117 1487h1v1h-1zM118 1486h1v1h-1zM119 1485h1v1h-1zM120 1484h1v1h-1zM121 1483h1v1h-1zM122 1482h1v1h-1zM123 1481h1v1h-1zM124 1480h1v1h-1zM125 1479h1v1h-1zM126 1478h1v1h-1zM127 1477h1v1h-1zM128 1476h1v1h-1zM129 1475h1v1h-1zM130 1474h1v1h-1zM131 1473h1v1h-1zM132 1472h1v1h-1zM133 1471h1v1h-1zM134 1470h1v1h-1zM135 1469h1v1h-1zM136 1468h1v1h-1zM130 1497h1v1h-1zM131 1496h1v1h-1zM132 1495h1v1h-1zM133 1494h1v1h-1zM134 1493h1v1h-1zM135 1492h1v1h-1zM136 1491h1v1h-1z" fill="#000" shape-rendering="crispEdges"/><rect x="115.49" y="1438.45" width="21.33" height="59.9" fill="none" stroke="#000" stroke-width="2.8"/><rect x="141.83" y="1438.45" width="21.33" height="54.65" fill="#ffffff"/><path d="M142 1439h1v1h-1zM143 1438h1v1h-1zM142 1462h1v1h-1zM143 1461h1v1h-1zM144 1460h1v1h-1zM145 1459h1v1h-1zM146 1458h1v1h-1zM147 1457h1v1h-1zM148 1456h1v1h-1zM149 1455h1v1h-1zM150 1454h1v1h-1zM151 1453h1v1h-1zM152 1452h1v1h-1zM153 1451h1v1h-1zM154 1450h1v1h-1zM155 1449h1v1h-1zM156 1448h1v1h-1zM157 1447h1v1h-1zM158 1446h1v1h-1zM159 1445h1v1h-1zM160 1444h1v1h-1zM161 1443h1v1h-1zM162 1442h1v1h-1zM142 1485h1v1h-1zM143 1484h1v1h-1zM144 1483h1v1h-1zM145 1482h1v1h-1zM146 1481h1v1h-1zM147 1480h1v1h-1zM148 1479h1v1h-1zM149 1478h1v1h-1zM150 1477h1v1h-1zM151 1476h1v1h-1zM152 1475h1v1h-1zM153 1474h1v1h-1zM154 1473h1v1h-1zM155 1472h1v1h-1zM156 1471h1v1h-1zM157 1470h1v1h-1zM158 1469h1v1h-1zM159 1468h1v1h-1zM160 1467h1v1h-1zM161 1466h1v1h-1zM162 1465h1v1h-1zM157 1492h1v1h-1zM158 1491h1v1h-1zM159 1490h1v1h-1zM160 1489h1v1h-1zM161 1488h1v1h-1zM162 1487h1v1h-1z" fill="#000" shape-rendering="crispEdges"/><rect x="141.83" y="1438.45" width="21.33" height="54.65" fill="none" stroke="#000" stroke-width="2.8"/><rect x="168.16" y="1438.45" width="21.33" height="29.75" fill="#1f77b4"/><path d="M168 1459h1v1h-1zM169 1458h1v1h-1zM170 1457h1v1h-1zM171 1456h1v1h-1zM172 1455h1v1h-1zM173 1454h1v1h-1zM174 1453h1v1h-1zM175 1452h1v1h-1zM176 1451h1v1h-1zM177 1450h1v1h-1zM178 1449h1v1h-1zM179 1448h1v1h-1zM180 1447h1v1h-1zM181 1446h1v1h-1zM182 1445h1v1h-1zM183 1444h1v1h-1zM184 1443h1v1h-1zM185 1442h1v1h-1zM186 1441h1v1h-1zM187 1440h1v1h-1zM188 1439h1v1h-1zM182 1467h1v1h-1zM183 1466h1v1h-1zM184 1465h1v1h-1zM185 1464h1v1h-1zM186 1463h1v1h-1zM187 1462h1v1h-1zM188 1461h1v1h-1z" fill="#000" shape-rendering="crispEdges"/><rect x="168.16" y="1438.45" width="21.33" height="29.75" fill="none" stroke="#000" stroke-width="2.8"/><rect x="194.5" y="1438.45" width="21.33" height="37.85" fill="#ff7f0e"/><path d="M195 1454h1v1h-1zM196 1453h1v1h-1zM197 1452h1v1h-1zM198 1451h1v1h-1zM199 1450h1v1h-1zM200 1449h1v1h-1zM201 1448h1v1h-1zM202 1447h1v1h-1zM203 1446h1v1h-1zM204 1445h1v1h-1zM205 1444h1v1h-1zM206 1443h1v1h-1zM207 1442h1v1h-1zM208 1441h1v1h-1zM209 1440h1v1h-1zM210 1439h1v1h-1zM211 1438h1v1h-1zM197 1475h1v1h-1zM198 1474h1v1h-1zM199 1473h1v1h-1zM200 1472h1v1h-1zM201 1471h1v1h-1zM202 1470h1v1h-1zM203 1469h1v1h-1zM204 1468h1v1h-1zM205 1467h1v1h-1zM206 1466h1v1h-1zM207 1465h1v1h-1zM208 1464h1v1h-1zM209 1463h1v1h-1zM210 1462h1v1h-1zM211 1461h1v1h-1zM212 1460h1v1h-1zM213 1459h1v1h-1zM214 1458h1v1h-1zM215 1457h1v1h-1z" fill="#000" shape-rendering="crispEdges"/><rect x="194.5" y="1438.45" width="21.33" height="37.85" fill="none" stroke="#000" stroke-width="2.8"/></g>
<rect x="99.9" y="1267.2" width="1869.8" height="344.1" fill="none" stroke="#000" stroke-width="2.25" stroke-linejoin="miter"/>
<path d="M126.16 1611.3v10.2M152.49 1611.3v10.2M178.83 1611.3v10.2M205.17 1611.3v10.2M231.5 1611.3v10.2M257.84 1611.3v10.2M284.18 1611.3v10.2M310.51 1611.3v10.2M336.85 1611.3v10.2M363.19 1611.3v10.2M389.52 1611.3v10.2M415.86 1611.3v10.2M442.2 1611.3v10.2M468.54 1611.3v10.2M494.87 1611.3v10.2M521.21 1611.3v10.2M547.55 1611.3v10.2M573.88 1611.3v10.2M600.22 1611.3v10.2M626.56 1611.3v10.2M652.89 1611.3v10.2M679.23 1611.3v10.2M705.57 1611.3v10.2M731.91 1611.3v10.2M758.24 1611.3v10.2M784.58 1611.3v10.2M810.92 1611.3v10.2M837.25 1611.3v10.2M863.59 1611.3v10.2M889.93 1611.3v10.2M916.26 1611.3v10.2M942.6 1611.3v10.2M968.94 1611.3v10.2M995.28 1611.3v10.2M1021.61 1611.3v10.2M1047.95 1611.3v10.2M1074.29 1611.3v10.2M1100.62 1611.3v10.2M1126.96 1611.3v10.2M1153.3 1611.3v10.2M1179.63 1611.3v10.2M1205.97 1611.3v10.2M1232.31 1611.3v10.2M1258.65 1611.3v10.2M1284.98 1611.3v10.2M1311.32 1611.3v10.2M1337.66 1611.3v10.2M1363.99 1611.3v10.2M1390.33 1611.3v10.2M1416.67 1611.3v10.2M1443 1611.3v10.2M1469.34 1611.3v10.2M1495.68 1611.3v10.2M1522.02 1611.3v10.2M1548.35 1611.3v10.2M1574.69 1611.3v10.2M1601.03 1611.3v10.2M1627.36 1611.3v10.2M1653.7 1611.3v10.2M1680.04 1611.3v10.2M1706.38 1611.3v10.2M1732.71 1611.3v10.2M1759.05 1611.3v10.2M1785.39 1611.3v10.2M1811.72 1611.3v10.2M1838.06 1611.3v10.2M1864.4 1611.3v10.2M1890.73 1611.3v10.2M1917.07 1611.3v10.2M1943.41 1611.3v10.2" stroke="#000" stroke-width="2.25"/>
<path d="M99.9 1343.65h-10.2M99.9 1439.25h-10.2M99.9 1534.85h-10.2" stroke="#000" stroke-width="2.25"/>
<text x="80.3" y="1354.55" text-anchor="end" class="t">1</text>
<text x="80.3" y="1450.15" text-anchor="end" class="t">0</text>
<text x="80.3" y="1545.75" text-anchor="end" class="t">−1</text>
<text transform="translate(21.6 1439.65) rotate(-90)" text-anchor="middle" class="t" style="font-size:28.6px">skew</text>
<text x="99.9" y="1251.1" class="ti">d) Nino4 Skewness</text>
<text transform="translate(134.46 1631.4) rotate(-90)" text-anchor="end" class="t">HadISST</text>
<text transform="translate(160.79 1631.4) rotate(-90)" text-anchor="end" class="t">NOAA_ERSSTV5</text>
<text transform="translate(187.13 1631.4) rotate(-90)" text-anchor="end" class="t">CMIP5 mean</text>
<text transform="translate(213.47 1631.4) rotate(-90)" text-anchor="end" class="t">CMIP6 mean</text>
<text transform="translate(239.8 1631.4) rotate(-90)" text-anchor="end" class="t">ACCESS1-0</text>
<text transform="translate(266.14 1631.4) rotate(-90)" text-anchor="end" class="t">ACCESS1-3</text>
<text transform="translate(292.48 1631.4) rotate(-90)" text-anchor="end" class="t">CMCC-CESM</text>
<text transform="translate(318.81 1631.4) rotate(-90)" text-anchor="end" class="t">CMCC-CMS</text>
<text transform="translate(345.15 1631.4) rotate(-90)" text-anchor="end" class="t">CMCC-CM</text>
<text transform="translate(371.49 1631.4) rotate(-90)" text-anchor="end" class="t">CNRM-CM5-2</text>
<text transform="translate(397.82 1631.4) rotate(-90)" text-anchor="end" class="t">CNRM-CM5</text>
<text transform="translate(424.16 1631.4) rotate(-90)" text-anchor="end" class="t">CanESM2</text>
<text transform="translate(450.5 1631.4) rotate(-90)" text-anchor="end" class="t">GFDL-CM2p1</text>
<text transform="translate(476.84 1631.4) rotate(-90)" text-anchor="end" class="t">GFDL-CM3</text>
<text transform="translate(503.17 1631.4) rotate(-90)" text-anchor="end" class="t">GFDL-ESM2G</text>
<text transform="translate(529.51 1631.4) rotate(-90)" text-anchor="end" class="t">GFDL-ESM2M</text>
<text transform="translate(555.85 1631.4) rotate(-90)" text-anchor="end" class="t">GISS-E2-H-CC</text>
<text transform="translate(582.18 1631.4) rotate(-90)" text-anchor="end" class="t">GISS-E2-H</text>
<text transform="translate(608.52 1631.4) rotate(-90)" text-anchor="end" class="t">GISS-E2-R-CC</text>
<text transform="translate(634.86 1631.4) rotate(-90)" text-anchor="end" class="t">GISS-E2-R</text>
<text transform="translate(661.19 1631.4) rotate(-90)" text-anchor="end" class="t">HadCM3</text>
<text transform="translate(687.53 1631.4) rotate(-90)" text-anchor="end" class="t">HadGEM2-AO</text>
<text transform="translate(713.87 1631.4) rotate(-90)" text-anchor="end" class="t">HadGEM2-CC</text>
<text transform="translate(740.21 1631.4) rotate(-90)" text-anchor="end" class="t">HadGEM2-ES</text>
<text transform="translate(766.54 1631.4) rotate(-90)" text-anchor="end" class="t">IPSL-CM5A-LR</text>
<text transform="translate(792.88 1631.4) rotate(-90)" text-anchor="end" class="t">IPSL-CM5A-MR</text>
<text transform="translate(819.22 1631.4) rotate(-90)" text-anchor="end" class="t">IPSL-CM5B-LR</text>
<text transform="translate(845.55 1631.4) rotate(-90)" text-anchor="end" class="t">MIROC-ESM-CHEM</text>
<text transform="translate(871.89 1631.4) rotate(-90)" text-anchor="end" class="t">MIROC-ESM</text>
<text transform="translate(898.23 1631.4) rotate(-90)" text-anchor="end" class="t">MIROC5</text>
<text transform="translate(924.56 1631.4) rotate(-90)" text-anchor="end" class="t">MPI-ESM-LR</text>
<text transform="translate(950.9 1631.4) rotate(-90)" text-anchor="end" class="t">MPI-ESM-MR</text>
<text transform="translate(977.24 1631.4) rotate(-90)" text-anchor="end" class="t">MPI-ESM-P</text>
<text transform="translate(1003.58 1631.4) rotate(-90)" text-anchor="end" class="t">MRI-CGCM3</text>
<text transform="translate(1029.91 1631.4) rotate(-90)" text-anchor="end" class="t">MRI-ESM1</text>
<text transform="translate(1056.25 1631.4) rotate(-90)" text-anchor="end" class="t">inmcm4</text>
<text transform="translate(1082.59 1631.4) rotate(-90)" text-anchor="end" class="t">ACCESS-CM2</text>
<text transform="translate(1108.92 1631.4) rotate(-90)" text-anchor="end" class="t">ACCESS-ESM1-5</text>
<text transform="translate(1135.26 1631.4) rotate(-90)" text-anchor="end" class="t">BCC-CSM2-MR</text>
<text transform="translate(1161.6 1631.4) rotate(-90)" text-anchor="end" class="t">BCC-ESM1</text>
<text transform="translate(1187.93 1631.4) rotate(-90)" text-anchor="end" class="t">CAMS-CSM1-0</text>
<text transform="translate(1214.27 1631.4) rotate(-90)" text-anchor="end" class="t">CESM2-FV2</text>
<text transform="translate(1240.61 1631.4) rotate(-90)" text-anchor="end" class="t">CESM2-WACCM-FV2</text>
<text transform="translate(1266.95 1631.4) rotate(-90)" text-anchor="end" class="t">CESM2-WACCM</text>
<text transform="translate(1293.28 1631.4) rotate(-90)" text-anchor="end" class="t">CESM2</text>
<text transform="translate(1319.62 1631.4) rotate(-90)" text-anchor="end" class="t">CNRM-CM6-1-HR</text>
<text transform="translate(1345.96 1631.4) rotate(-90)" text-anchor="end" class="t">CNRM-CM6-1</text>
<text transform="translate(1372.29 1631.4) rotate(-90)" text-anchor="end" class="t">CNRM-ESM2-1</text>
<text transform="translate(1398.63 1631.4) rotate(-90)" text-anchor="end" class="t">CanESM5</text>
<text transform="translate(1424.97 1631.4) rotate(-90)" text-anchor="end" class="t">E3SM-1-0</text>
<text transform="translate(1451.3 1631.4) rotate(-90)" text-anchor="end" class="t">EC-Earth3-Veg</text>
<text transform="translate(1477.64 1631.4) rotate(-90)" text-anchor="end" class="t">FGOALS-f3-L</text>
<text transform="translate(1503.98 1631.4) rotate(-90)" text-anchor="end" class="t">GFDL-CM4</text>
<text transform="translate(1530.32 1631.4) rotate(-90)" text-anchor="end" class="t">GFDL-ESM4</text>
<text transform="translate(1556.65 1631.4) rotate(-90)" text-anchor="end" class="t">GISS-E2-1-G-CC</text>
<text transform="translate(1582.99 1631.4) rotate(-90)" text-anchor="end" class="t">GISS-E2-1-G</text>
<text transform="translate(1609.33 1631.4) rotate(-90)" text-anchor="end" class="t">GISS-E2-1-H</text>
<text transform="translate(1635.66 1631.4) rotate(-90)" text-anchor="end" class="t">INM-CM4-8</text>
<text transform="translate(1662 1631.4) rotate(-90)" text-anchor="end" class="t">INM-CM5-0</text>
<text transform="translate(1688.34 1631.4) rotate(-90)" text-anchor="end" class="t">IPSL-CM6A-LR</text>
<text transform="translate(1714.67 1631.4) rotate(-90)" text-anchor="end" class="t">MCM-UA-1-0</text>
<text transform="translate(1741.01 1631.4) rotate(-90)" text-anchor="end" class="t">MIROC-ES2L</text>
<text transform="translate(1767.35 1631.4) rotate(-90)" text-anchor="end" class="t">MIROC6</text>
<text transform="translate(1793.69 1631.4) rotate(-90)" text-anchor="end" class="t">MPI-ESM1-2-HR</text>
<text transform="translate(1820.02 1631.4) rotate(-90)" text-anchor="end" class="t">MRI-ESM2-0</text>
<text transform="translate(1846.36 1631.4) rotate(-90)" text-anchor="end" class="t">NESM3</text>
<text transform="translate(1872.7 1631.4) rotate(-90)" text-anchor="end" class="t">NorCPM1</text>
<text transform="translate(1899.03 1631.4) rotate(-90)" text-anchor="end" class="t">NorESM2-LM</text>
<text transform="translate(1925.37 1631.4) rotate(-90)" text-anchor="end" class="t">SAM0-UNICON</text>
<text transform="translate(1951.71 1631.4) rotate(-90)" text-anchor="end" class="t">UKESM1-0-LL</text>
</svg>
</body></html>
